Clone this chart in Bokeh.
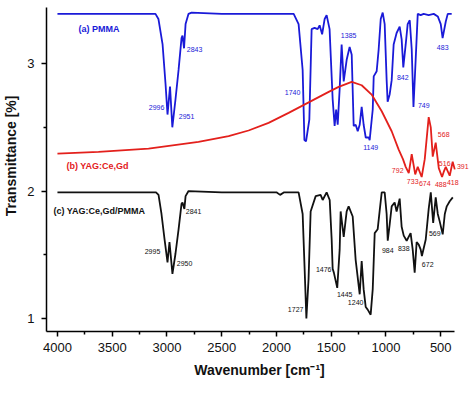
from bokeh.plotting import figure
from bokeh.models import Range1d, FixedTicker, ColumnDataSource, LabelSet
from bokeh.core.properties import value
from bokeh.embed import file_html
from bokeh.resources import INLINE

# ---------------- data ----------------
pmma_wn = [4000, 3800, 3600, 3400, 3200, 3105, 3078, 3040, 3013, 2995, 2972, 2951, 2922, 2894, 2867,
           2858, 2844, 2830, 2803, 2775, 2500, 2200, 1900, 1843, 1798, 1761, 1745, 1730, 1700, 1679,
           1652, 1624, 1606, 1583, 1560, 1542, 1515, 1487, 1469, 1455, 1441, 1423, 1405, 1386, 1359,
           1332, 1313, 1295, 1277, 1258, 1240, 1222, 1204, 1185, 1158, 1149, 1121, 1112, 1085, 1067,
           1048, 1030, 1012, 994, 985, 966, 948, 930, 903, 875, 857, 842, 820, 802, 783, 765, 749,
           729, 710, 683, 656, 610, 564, 527, 500, 483, 454, 436, 400]
pmma_t = [3.39, 3.39, 3.39, 3.39, 3.39, 3.39, 3.35, 3.15, 2.84, 2.60, 2.82, 2.50, 2.72, 2.95, 3.20,
          3.22, 3.12, 3.31, 3.39, 3.40, 3.39, 3.39, 3.39, 3.39, 3.31, 2.95, 2.40, 2.39, 2.56, 3.27,
          3.28, 3.27, 3.30, 3.23, 3.35, 3.38, 3.27, 2.72, 2.51, 2.64, 2.52, 2.80, 3.15, 2.86, 3.03,
          3.13, 3.07, 2.51, 2.52, 2.47, 2.52, 2.66, 2.52, 2.42, 2.42, 2.40, 2.64, 2.90, 2.94, 3.11,
          3.35, 3.40, 3.31, 2.87, 2.70, 2.76, 2.87, 3.15, 3.24, 3.29, 3.19, 2.97, 3.15, 3.31, 3.34,
          3.11, 2.66, 3.03, 3.39, 3.38, 3.39, 3.38, 3.39, 3.37, 3.31, 3.20, 3.33, 3.39, 3.39]

yag_wn = [4000, 3625, 3168, 2712, 2437, 2255, 2072, 1889, 1706, 1523, 1432, 1313, 1222, 1131, 1039,
          948, 884, 845, 820, 792, 765, 733, 710, 674, 646, 610, 591, 573, 546, 518, 488, 473, 454,
          418, 391, 372]
yag_t = [2.294, 2.307, 2.333, 2.386, 2.430, 2.475, 2.535, 2.613, 2.696, 2.778, 2.817, 2.856, 2.830,
         2.757, 2.626, 2.469, 2.325, 2.25, 2.19, 2.14, 2.29, 2.13, 2.19, 2.11, 2.25, 2.58, 2.50, 2.27,
         2.38, 2.18, 2.11, 2.15, 2.19, 2.12, 2.23, 2.17]

comp_wn = [4000, 3700, 3400, 3100, 3077, 3050, 3022, 2995, 2977, 2950, 2922, 2894, 2867, 2858, 2841,
           2830, 2803, 2500, 2200, 2000, 1967, 1930, 1798, 1761, 1743, 1727, 1707, 1688, 1642, 1597,
           1578, 1542, 1514, 1496, 1487, 1476, 1445, 1423, 1414, 1386, 1359, 1341, 1304, 1277, 1240,
           1222, 1204, 1185, 1167, 1140, 1121, 1103, 1076, 1057, 1039, 1012, 994, 984, 966, 948,
           921, 903, 875, 857, 838, 811, 793, 775, 756, 738, 720, 701, 683, 672, 637, 610, 591,
           569, 546, 527, 509, 482, 463, 445, 418, 390]
comp_t = [1.99, 1.99, 1.99, 1.99, 1.97, 1.82, 1.62, 1.44, 1.60, 1.35, 1.51, 1.70, 1.90, 1.91, 1.86,
          1.96, 2.00, 1.99, 1.99, 1.99, 1.97, 1.99, 1.99, 1.82, 1.39, 1.00, 1.31, 1.84, 1.96, 1.97,
          1.93, 1.99, 1.93, 1.62, 1.39, 1.36, 1.24, 1.54, 1.84, 1.64, 1.84, 1.88, 1.80, 1.46, 1.19,
          1.45, 1.23, 1.09, 1.07, 1.03, 1.23, 1.67, 1.70, 1.85, 1.99, 1.99, 1.82, 1.61, 1.74, 1.88,
          1.91, 1.84, 1.94, 1.72, 1.65, 1.61, 1.64, 1.67, 1.54, 1.36, 1.60, 1.58, 1.54, 1.49, 1.62,
          1.86, 1.99, 1.75, 1.95, 1.82, 1.76, 1.66, 1.82, 1.88, 1.92, 1.95]

series_names = ["(a) PMMA", "(b) YAG:Ce,Gd", "(c) YAG:Ce,Gd/PMMA"]

pmma_peaks = ["2996", "2951", "2843", "1740", "1385", "1149", "842", "749", "483"]
pmma_peak_x = [3095, 2821, 2748, 1853, 1341, 1140, 847, 655, 482]
pmma_peak_y = [2.655, 2.585, 3.11, 2.77, 3.22, 2.34, 2.89, 2.67, 3.125]

yag_peaks = ["792", "733", "674", "568", "516", "488", "418", "391"]
yag_peak_x = [893, 756, 646, 473, 464, 500, 390, 299]
yag_peak_y = [2.16, 2.075, 2.06, 2.44, 2.215, 2.05, 2.07, 2.19]

comp_peaks = ["2995", "2950", "2841", "1727", "1476", "1445", "1240", "984", "838", "672", "569"]
comp_peak_x = [3132, 2839, 2757, 1825, 1569, 1377, 1277, 984, 838, 619, 555]
comp_peak_y = [1.525, 1.43, 1.84, 1.07, 1.385, 1.19, 1.125, 1.535, 1.55, 1.42, 1.67]

name_x = [3808, 3918, 4037]
name_y = [3.27, 2.20, 1.84]

x_ticks = [4000, 3500, 3000, 2500, 2000, 1500, 1000, 500]
x_minor = [3750, 3250, 2750, 2250, 1750, 1250, 750]
y_ticks = [1, 2, 3]
y_minor = [1.5, 2.5]

BLUE = "#1a1ad8"
RED = "#e3201c"
BLACK = "#111111"
FONT = "Liberation Sans"

p = figure(output_backend="svg", toolbar_location=None,
           frame_width=426, frame_height=324,
           min_border_left=40, min_border_right=0, min_border_top=7, min_border_bottom=50,
           x_range=Range1d(4100, 210), y_range=Range1d(0.898, 3.44))
p.outline_line_color = None
p.xgrid.visible = False
p.ygrid.visible = False
p.background_fill_color = "white"
p.border_fill_color = "white"

p.line(pmma_wn, pmma_t, line_color=BLUE, line_width=1.8)
p.line(yag_wn, yag_t, line_color=RED, line_width=1.8)
p.line(comp_wn, comp_t, line_color=BLACK, line_width=1.8)

for ax in (p.xaxis[0], p.yaxis[0]):
    ax.axis_line_width = 1.5
    ax.major_tick_line_width = 1.5
    ax.minor_tick_line_width = 1.5
    ax.major_tick_in = 0
    ax.major_tick_out = 5
    ax.minor_tick_in = 0
    ax.minor_tick_out = 3
    ax.major_label_text_font = FONT
    ax.major_label_text_font_size = "13px"
    ax.major_label_text_color = "#111111"
    ax.axis_label_text_font = FONT
    ax.axis_label_text_font_size = "14px"
    ax.axis_label_text_font_style = "bold"
    ax.axis_label_text_color = "#111111"

p.xaxis[0].ticker = FixedTicker(ticks=x_ticks, minor_ticks=x_minor)
p.yaxis[0].ticker = FixedTicker(ticks=y_ticks, minor_ticks=y_minor)
p.xaxis[0].bounds = (373, 4100)
p.xaxis[0].axis_label = "Wavenumber [cm\u207b\u00b9]"
p.yaxis[0].axis_label = "\u00a0" * 7 + "Transmittance [%]"
p.xaxis[0].major_label_standoff = 6
p.xaxis[0].axis_label_standoff = 7
p.yaxis[0].major_label_standoff = 7
p.yaxis[0].axis_label_standoff = 5


def add_labels(xs, ys, texts, color, size, style="normal", align="center"):
    src = ColumnDataSource(dict(x=xs, y=ys, text=texts))
    ls = LabelSet(x="x", y="y", text="text", source=src,
                  text_font=value(FONT), text_font_size=value(size),
                  text_font_style=value(style), text_color=value(color),
                  text_align=value(align), text_baseline=value("middle"))
    p.add_layout(ls)


add_labels(pmma_peak_x, pmma_peak_y, pmma_peaks, BLUE, "7px")
add_labels(yag_peak_x, yag_peak_y, yag_peaks, RED, "7px")
add_labels(comp_peak_x, comp_peak_y, comp_peaks, BLACK, "7px")
add_labels(name_x[0:1], name_y[0:1], series_names[0:1], BLUE, "9px", "bold", "left")
add_labels(name_x[1:2], name_y[1:2], series_names[1:2], RED, "9px", "bold", "left")
add_labels(name_x[2:3], name_y[2:3], series_names[2:3], BLACK, "9px", "bold", "left")

open("out.html", "w").write(file_html(p, INLINE))
